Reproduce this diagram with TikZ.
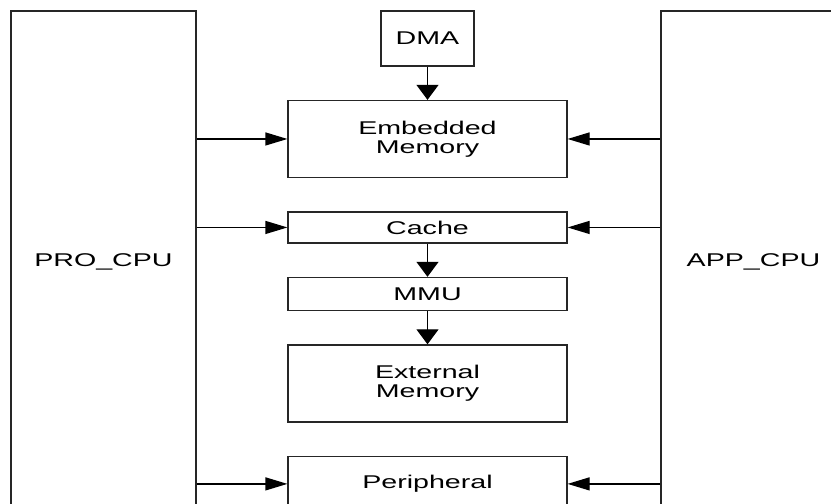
\documentclass[tikz,border=0pt]{standalone}
\usepackage{fontspec}
\usepackage{tikz}
\usetikzlibrary{arrows.meta,positioning}
\newfontfamily\blockfont[FakeStretch=1.55]{Liberation Sans}

\begin{document}
\begin{tikzpicture}[
    node distance=0.665cm,
    every node/.style={font=\blockfont\fontsize{10.5}{10.6}\selectfont},
    cpu/.style={rectangle, draw=black!85, line width=0.7pt, minimum width=3.7cm, minimum height=10.04cm},
    block/.style={rectangle, draw=black!85, line width=0.7pt, align=center, inner sep=0pt, minimum width=5.58cm},
    harrow/.style={-{Triangle[length=0.44cm,width=0.26cm]}, line width=0.7pt},
    varrow/.style={-{Triangle[length=0.3cm,width=0.44cm]}, line width=0.7pt}
]
\useasboundingbox (0,0) rectangle (16.62,-10.08);

% the two cores, both cut off at the bottom edge
\node [cpu] (pro) at (2.07,-5.24) {PRO\_CPU};
\node [cpu] (app) at (15.07,-5.24) {APP\_CPU};

\node [block, minimum width=1.86cm, minimum height=1.1cm] (dma) at (8.55,-0.77) {DMA};
\node [block, below=of dma, minimum height=1.54cm] (emb) {Embedded\\Memory};
\node [block, below=of emb, minimum height=0.62cm] (cache) {Cache};
\node [block, below=of cache, minimum height=0.66cm] (mmu) {MMU};
\node [block, below=of mmu, minimum height=1.54cm] (ext) {External\\Memory};
\node [block, below=of ext, minimum height=1.1cm] (peri) {Peripheral};

\draw [varrow] (dma) -- (emb);
\draw [varrow] (cache) -- (mmu);
\draw [varrow] (mmu) -- (ext);

\draw [harrow] (pro.east |- emb.west) -- (emb.west);
\draw [harrow] (pro.east |- cache.west) -- (cache.west);
\draw [harrow] (pro.east |- peri.west) -- (peri.west);

\draw [harrow] (app.west |- emb.east) -- (emb.east);
\draw [harrow] (app.west |- cache.east) -- (cache.east);
\draw [harrow] (app.west |- peri.east) -- (peri.east);

\end{tikzpicture}
\end{document}
